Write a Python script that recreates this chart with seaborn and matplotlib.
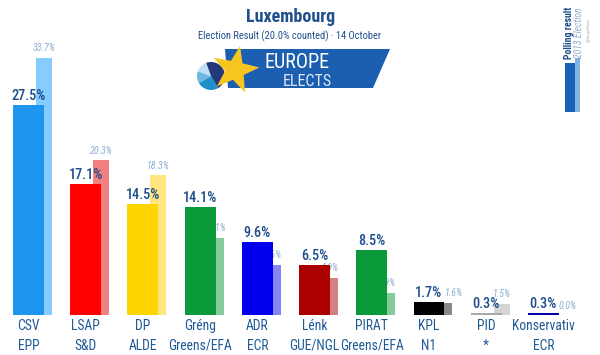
import numpy as np
import pandas as pd
import matplotlib
matplotlib.use("Agg")
import matplotlib.pyplot as plt
from matplotlib import font_manager
from matplotlib.patches import Polygon, Rectangle, Wedge
import seaborn as sns

# ---- data ----
parties = ["CSV", "LSAP", "DP", "Gréng", "ADR", "Lénk", "PIRAT", "KPL", "PID", "Konservativ"]
groups = ["EPP", "S&D", "ALDE", "Greens/EFA", "ECR", "GUE/NGL", "Greens/EFA", "N1", "*", "ECR"]
result = [27.5, 17.1, 14.5, 14.1, 9.6, 6.5, 8.5, 1.7, 0.3, 0.3]
previous = [33.7, 20.3, 18.3, 10.1, 6.6, 4.9, 2.9, 1.6, 1.5, 0.0]
colors = ["#1E96F0", "#FF0000", "#FFD500", "#0A9A3A", "#0000EE", "#AA0000",
          "#0A9A3A", "#000000", "#A8A8A8", "#0000AA"]
light_colors = ["#85CCFF", "#F28080", "#FFE680", "#85CC9C", "#8585F6", "#D48080",
                "#85CC9C", "#888888", "#D4D4D4", "#8080D4"]

sns.set_theme(style="white")
avail = {f.name for f in font_manager.fontManager.ttflist}
fam = "DejaVu Sans"
for cand in ["Roboto Condensed", "Liberation Sans Narrow", "Open Sans Condensed",
             "Noto Sans Condensed", "Roboto", "Liberation Sans"]:
    if cand in avail:
        fam = cand
        break
plt.rcParams["font.family"] = [fam, "DejaVu Sans"]

W, H = 600, 355
fig = plt.figure(figsize=(6, 3.55), dpi=100)
ax = fig.add_axes([0, 0, 1, 1])

df = pd.DataFrame({"party": parties, "result": result})
sns.barplot(data=df, x="party", y="result", hue="party", palette=colors,
            dodge=False, legend=False, width=0.54, saturation=1, ax=ax)
for p in ax.patches:
    p.set_zorder(3)
    p.set_linewidth(0)

x = np.arange(len(parties))
ax.bar(x + 0.13, previous, width=0.28, align="edge", color=light_colors,
       linewidth=0, zorder=1)

ppu = 7.64  # pixels per percentage unit
base_px = 40
ax.set_xlim(-0.498, 9.99)
ax.set_ylim(-base_px / ppu, (H - base_px) / ppu)
ax.axis("off")

dark = "#1F4F8C"
for i, (v, pv) in enumerate(zip(result, previous)):
    ax.annotate(f"{v}%", (i, v), xytext=(0, 3.6), textcoords="offset points",
                ha="center", va="baseline", fontsize=10.3, color=dark,
                fontweight="medium", zorder=5)
    dx = 6.5 if abs(pv - v) < 0.5 else 0
    ax.annotate(f"{pv}%", (i + 0.27, pv), xytext=(dx, 4.6), textcoords="offset points",
                ha="center", va="baseline", fontsize=7.2, color="#8DAED2",
                style="italic", zorder=2)
    ax.annotate(parties[i], (i, 0), xytext=(0, -8.2), textcoords="offset points",
                ha="center", va="center", fontsize=9.8, color="#1F5A96", zorder=5)
    ax.annotate(groups[i], (i, 0), xytext=(0, -22), textcoords="offset points",
                ha="center", va="center", fontsize=9.8, color="#1F5A96", zorder=5)

# ---- header & decorations (pixel-coordinate overlay) ----
dec = fig.add_axes([0, 0, 1, 1], facecolor="none")
dec.set_xlim(0, W)
dec.set_ylim(H, 0)
dec.axis("off")

dec.text(291, 17, "Luxembourg", ha="center", va="center", fontsize=13,
         fontweight="bold", color=dark)
dec.text(290, 36, "Election Result (20.0% counted) · 14 October", ha="center",
         va="center", fontsize=7.5, color=dark)

# logo banner
logo_blue = "#1C5FB0"
dec.add_patch(Polygon([(225, 49), (390, 49), (373, 88), (228, 88)], closed=True,
                      facecolor=logo_blue, edgecolor="none", zorder=2))
# pie
pie_cols = ["#1E8FC8", "#6EB7E3", "#BFE0F4", "#23397A"]
angles = [(60, 150), (150, 200), (200, 250), (250, 420)]
for (a1, a2), c in zip(angles, pie_cols):
    dec.add_patch(Wedge((211, 76), 14, a1, a2, facecolor=c, edgecolor="none", zorder=3))
# star
cx, cy, ro, ri = 235, 70, 24.5, 10
pts = []
for k in range(10):
    ang = np.deg2rad(-90 + 12 + k * 36)
    r = ro if k % 2 == 0 else ri
    pts.append((cx + r * np.cos(ang), cy + r * np.sin(ang)))
dec.add_patch(Polygon(pts, closed=True, facecolor="#F7C51E", edgecolor="none", zorder=4))
dec.text(297, 62, "EUROPE", ha="center", va="center", fontsize=14.5, color="white", zorder=5)
dec.text(307, 81, "ELECTS", ha="center", va="center", fontsize=11.5, color="#DDE8F5",
         zorder=5)

# polling result badge
dec.add_patch(Rectangle((575, 58), 5, 54, facecolor="#7FB3E0", edgecolor="none"))
dec.add_patch(Rectangle((565, 63), 10, 49, facecolor="#1A62B8", edgecolor="none"))
dec.text(569, 33, "Polling result", rotation=90, ha="center", va="center",
         fontsize=7, fontweight="bold", color=dark)
dec.text(579, 33, "2013 Election", rotation=90, ha="center", va="center",
         fontsize=7, style="italic", color="#8DAED2")
dec.text(589, 30, "@EuropeElects", rotation=90, ha="center", va="center",
         fontsize=3, color="#A0A0A0")

fig.savefig("out.png", dpi=100, facecolor="white")
